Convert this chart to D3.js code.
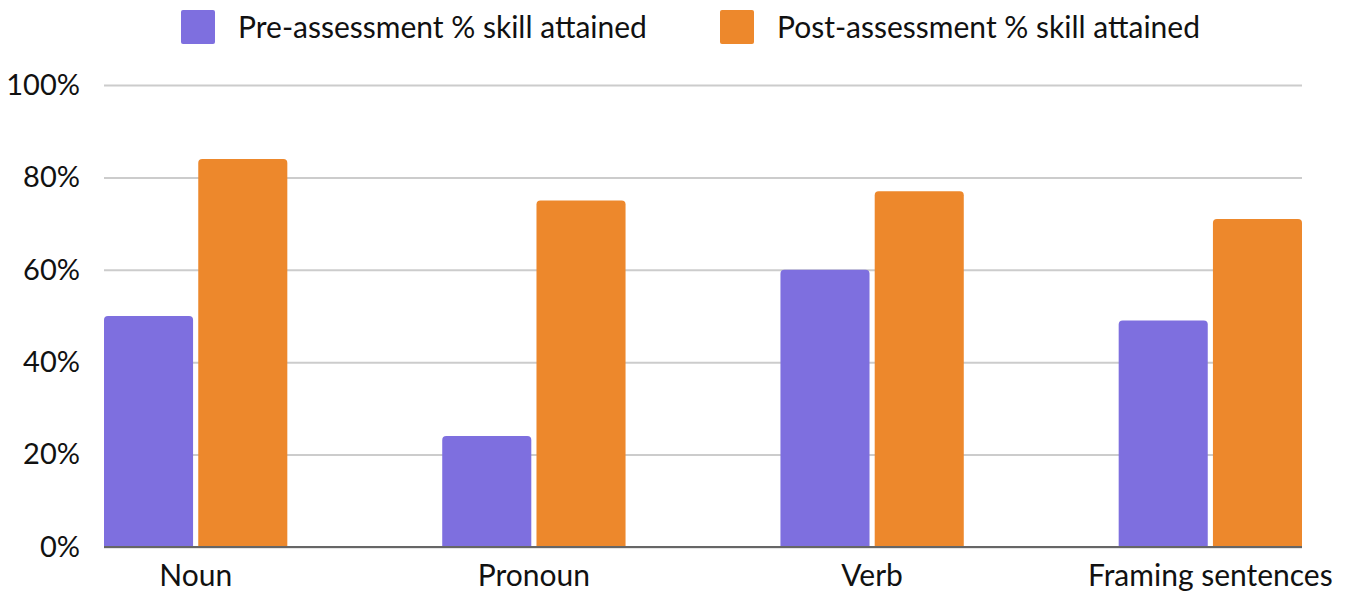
<!DOCTYPE html>
<html><head><meta charset="utf-8">
<script src="https://cdn.jsdelivr.net/npm/d3@7"></script>
<style>body{margin:0;background:#fff}svg{display:block}text{font-family:Lato,"Open Sans",sans-serif;fill:#111}</style>
</head><body><svg id="c" width="1351" height="595"></svg>
<script>
const categories = ["Noun","Pronoun","Verb","Framing sentences"];
const seriesNames = ["Pre-assessment % skill attained","Post-assessment % skill attained"];
const preValues = [50,24,60,49];
const postValues = [84,75,77,71];
const yTicks = [0,20,40,60,80,100];
const colors = ["#7E6FDF","#ED882C"];

const svg = d3.select("#c");
const W=1351,H=595;
const m={l:104,r:49,t:85,b:48};
const x = d3.scaleBand().domain(categories).range([m.l,W-m.r]).paddingInner(0.458).paddingOuter(0);
const x1 = d3.scaleBand().domain([0,1]).range([0,x.bandwidth()]).paddingInner(0.055);
const y = d3.scaleLinear().domain([0,100]).range([H-m.b,m.t]);

// grid
const yAxis = d3.axisLeft(y).tickValues(yTicks).tickFormat(d=>d+"%").tickSize(-(W-m.l-m.r)).tickPadding(24);
const ga = svg.append("g").attr("transform",`translate(${m.l},0)`).call(yAxis);
ga.select(".domain").remove();
ga.selectAll(".tick line").attr("stroke","#cccccc").attr("stroke-width",2);
ga.selectAll(".tick text").attr("font-size",29).style("font-family","Lato,sans-serif").attr("fill","#111");

const rows = categories.map((c,i)=>({c,v:[preValues[i],postValues[i]]}));
const r=4;
function barPath(x0,w,y0,yb){
  return `M${x0},${yb}V${y0+r}Q${x0},${y0} ${x0+r},${y0}H${x0+w-r}Q${x0+w},${y0} ${x0+w},${y0+r}V${yb}Z`;
}
const g = svg.append("g");
rows.forEach(row=>{
  row.v.forEach((v,k)=>{
    const bx = x(row.c)+x1(k);
    g.append("path").attr("d",barPath(bx,x1.bandwidth(),y(v),y(0))).attr("fill",colors[k]);
  });
});
// baseline
svg.append("line").attr("x1",m.l).attr("x2",W-m.r).attr("y1",y(0)).attr("y2",y(0)).attr("stroke","#666").attr("stroke-width",2);

// x axis
const xa = d3.axisBottom(x).tickSize(0).tickPadding(18);
const gx = svg.append("g").attr("transform",`translate(0,${y(0)})`).call(xa);
gx.select(".domain").remove();
gx.selectAll(".tick text").attr("font-size",30).style("font-family","Lato,sans-serif").attr("fill","#111");

// legend
const legX=[181,720];
seriesNames.forEach((s,k)=>{
  const lg=svg.append("g").attr("transform",`translate(${legX[k]},10)`);
  lg.append("rect").attr("width",34).attr("height",34).attr("rx",2).attr("fill",colors[k]);
  lg.append("text").attr("x",57).attr("y",28).attr("font-size",30).text(s);
});
</script></body></html>
